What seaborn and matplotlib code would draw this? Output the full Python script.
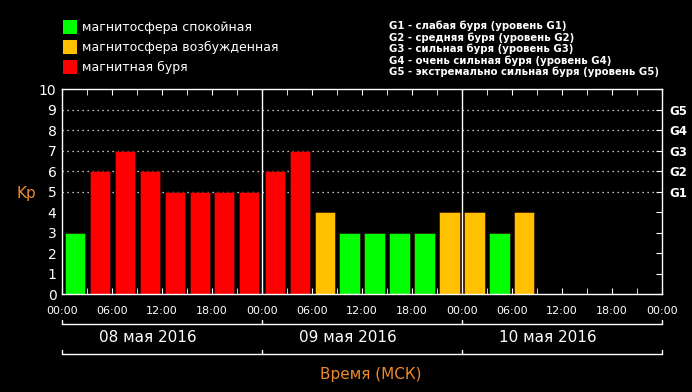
import matplotlib
matplotlib.use("Agg")
import matplotlib.pyplot as plt
import matplotlib.transforms as mtransforms
from matplotlib.patches import Rectangle
import seaborn as sns
import pandas as pd

# ---------------- data ----------------
interval_start_h = [0, 3, 6, 9, 12, 15, 18, 21,
                    24, 27, 30, 33, 36, 39, 42, 45,
                    48, 51, 54]
kp_values = [3, 6, 7, 6, 5, 5, 5, 5,
             6, 7, 4, 3, 3, 3, 3, 4,
             4, 3, 4]
state_labels = ["магнитосфера спокойная", "магнитосфера возбужденная", "магнитная буря"]
state_colors = ["#00ff00", "#ffc000", "#ff0000"]
bar_state = [0, 2, 2, 2, 2, 2, 2, 2,
             2, 2, 1, 0, 0, 0, 0, 1,
             1, 0, 1]
day_labels = ["08 мая 2016", "09 мая 2016", "10 мая 2016"]
day_bounds_h = [0, 24, 48, 72]
xtick_h = [0, 6, 12, 18, 24, 30, 36, 42, 48, 54, 60, 66, 72]
xtick_labels = ["00:00", "06:00", "12:00", "18:00", "00:00", "06:00", "12:00",
                "18:00", "00:00", "06:00", "12:00", "18:00", "00:00"]
g_levels = [5, 6, 7, 8, 9]
g_labels = ["G1", "G2", "G3", "G4", "G5"]
storm_desc = ["G1 - слабая буря (уровень G1)",
              "G2 - средняя буря (уровень G2)",
              "G3 - сильная буря (уровень G3)",
              "G4 - очень сильная буря (уровень G4)",
              "G5 - экстремально сильная буря (уровень G5)"]

df = pd.DataFrame({
    "hour": [h + 1.5 for h in interval_start_h],
    "kp": kp_values,
    "state": [state_labels[s] for s in bar_state],
})
palette = dict(zip(state_labels, state_colors))

# ---------------- style ----------------
sns.set_style("dark", {"axes.facecolor": "black", "figure.facecolor": "black",
                       "axes.edgecolor": "white", "axes.grid": False})
plt.rcParams["font.family"] = ["DejaVu Sans"]
W, H = 692, 392
ORANGE = "#ee8a2c"

fig = plt.figure(figsize=(W / 100, H / 100), dpi=100, facecolor="black")
ax = fig.add_axes([62 / W, 1 - 294 / H, 600 / W, (294 - 89.3) / H])
ax.set_facecolor("black")

def fx(px):
    return px / W

def fy(py):
    return 1 - py / H

# dotted grid lines for storm levels
for lvl in g_levels:
    ax.axhline(lvl, color="white", lw=0.9, ls=(0, (1, 3)), zorder=0.5)

sns.barplot(data=df, x="hour", y="kp", hue="state", palette=palette,
            hue_order=state_labels, native_scale=True, dodge=False,
            width=0.8, saturation=1, legend=False, ax=ax,
            edgecolor="#300000", linewidth=0.4, zorder=2)

for b in day_bounds_h[1:-1]:
    ax.axvline(b, color="white", lw=1, zorder=3)

ax.set_xlim(day_bounds_h[0], day_bounds_h[-1])
ax.set_ylim(0, 10)

for sp in ax.spines.values():
    sp.set_color("white")
    sp.set_linewidth(1)
    sp.set_zorder(4)

ax.set_yticks(range(0, 11))
ax.set_yticklabels([str(i) for i in range(0, 11)], color="white", fontsize=10)
ax.tick_params(axis="y", which="major", left=False, right=True, direction="in",
               length=4, color="white", pad=4, labelleft=True)

ax.set_xticks(xtick_h)
ax.set_xticklabels(xtick_labels, color="white", fontsize=8)
ax.set_xticks(range(0, 73, 3), minor=True)
ax.tick_params(axis="x", which="both", bottom=True, top=True, direction="in",
               length=4, color="white", pad=9)
ax.set_xlabel("")
ax.set_ylabel("Kp", rotation=0, color=ORANGE, fontsize=11, va="center", ha="center")
ax.yaxis.set_label_coords(-0.059, 0.49)

# storm level labels on the right
sec = ax.secondary_yaxis("right")
sec.set_yticks(g_levels)
sec.set_yticklabels(g_labels, color="white", fontsize=8.5, fontweight="bold")
sec.tick_params(length=0, pad=5)
sec.spines["right"].set_visible(False)

# day brackets under axis
blend = mtransforms.blended_transform_factory(ax.transData, fig.transFigure)
for ypx in (324.3, 354.3):
    ax.plot([day_bounds_h[0], day_bounds_h[-1]], [fy(ypx), fy(ypx)], color="white",
            lw=1, transform=blend, clip_on=False)
    for b in day_bounds_h:
        ax.plot([b, b], [fy(ypx), fy(ypx - 4)], color="white", lw=1,
                transform=blend, clip_on=False)
for i, lab in enumerate(day_labels):
    ax.text(day_bounds_h[i] + 10.3, fy(338), lab, transform=blend, color="white",
            fontsize=11, ha="center", va="center")

fig.text(fx(370.5), fy(374.5), "Время (МСК)", color=ORANGE, fontsize=11,
         ha="center", va="center")

# legend (top-left)
sq_centers = [27, 47.3, 67]
for c, lab, yc in zip(state_colors, state_labels, sq_centers):
    fig.add_artist(Rectangle((fx(63), fy(yc + 7)), 14 / W, 14 / H,
                             transform=fig.transFigure, facecolor=c, edgecolor="none"))
    fig.text(fx(81.5), fy(yc), lab, color="white", fontsize=9, ha="left",
             va="center")

# storm descriptions (top-right)
for i, txt in enumerate(storm_desc):
    fig.text(fx(389), fy(29 + 11.6 * i), txt, color="white", fontsize=7.25,
             fontweight="bold", ha="left", va="baseline")

fig.savefig("out.png", dpi=100, facecolor="black")
